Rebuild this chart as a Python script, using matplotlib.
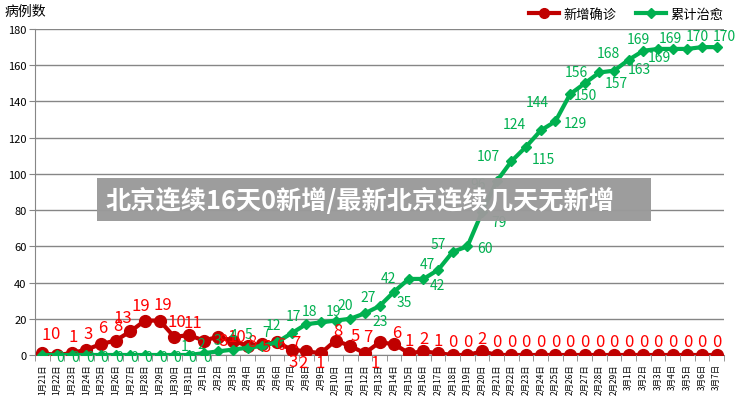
import matplotlib
matplotlib.use("Agg")
import matplotlib.pyplot as plt
from matplotlib.lines import Line2D
from matplotlib.patches import Rectangle
import numpy as np

plt.rcParams['font.family'] = ['Noto Sans CJK SC', 'DejaVu Sans']

# ---- data ----
dates = (['1月%d日' % d for d in range(21, 32)] +
         ['2月%d日' % d for d in range(1, 30)] +
         ['3月%d日' % d for d in range(1, 8)])

new_cases = [1, 0, 1, 3, 6, 8, 13, 19, 19, 10, 11,
             8, 10, 8, 5, 6, 7, 3, 2, 1, 8, 5, 1, 7, 6, 1, 2, 1, 0, 0, 2,
             0, 0, 0, 0, 0, 0, 0, 0, 0,
             0, 0, 0, 0, 0, 0, 0]

cured = [0, 0, 0, 0, 0, 0, 0, 0, 0, 0, 0,
         1, 2, 3, 4, 5, 7, 12, 17, 18, 19, 20, 23, 27, 35, 42, 42, 47, 57, 60, 79,
         96, 107, 115, 124, 129, 144, 150, 156, 157,
         163, 168, 169, 169, 169, 170, 170]

# label offsets (pixels) -- style only
red_off = ([(4, 19), (-2, 21), (2, 17), (2, 16), (2, 17), (2, 15), (-7, 14), (-4, 15),
            (3, 16), (3, 15), (4, 13)] +
           [(19, 0), (19, 0), (19, -1), (19, -1), (19, 0), (19, 0)] +
           [(2, -12), (-3, -11), (-1, -9), (2, 10), (5, 10), (10, -9), (-12, 6), (3, 12)] +
           [(0, 13)] * 22)
grn_off = ([(18, -2)] * 11 +
           [(-19, 7), (-17, 7), (-15, 10), (-14, 13), (-14, 12), (-11, 10), (-18, 8),
            (-13, 8), (-11, 11), (-2, 10), (-5, 14), (15, -8), (-11, 9), (10, -10),
            (-20, 1), (14, -6), (-11, 6), (-15, 8), (18, -2), (17, -10), (-19, -3),
            (-23, 5), (17, -12), (-26, 6), (20, -2), (-33, -8), (1, -12), (-23, 0),
            (2, -12), (11, -9), (-35, -2), (-20, 10), (-13, -8), (-17, 11), (-5, 11),
            (8, 11)])

RED = '#C00000'
RED_TXT = '#FF0000'
GREEN = '#00B050'
GRID = '#868686'

fig = plt.figure(figsize=(7.46, 4.02), dpi=100)
ax = fig.add_axes([35/746, 46/402, (724-35)/746, (356-30)/402])

x = np.arange(len(dates))
ax.plot(x, new_cases, color=RED, lw=3, marker='o', ms=8.5, zorder=3)
ax.plot(x, cured, color=GREEN, lw=3, marker='D', ms=5.5, zorder=4)

for i in range(len(x)):
    ax.annotate(str(new_cases[i]), (x[i], new_cases[i]), xytext=red_off[i],
                textcoords='offset pixels', ha='center', va='center',
                color=RED_TXT, fontsize=12, zorder=5, annotation_clip=False)
    ax.annotate(str(cured[i]), (x[i], cured[i]), xytext=grn_off[i],
                textcoords='offset pixels', ha='center', va='center',
                color=GREEN, fontsize=10, zorder=5, annotation_clip=False)

ax.set_xlim(-0.5, len(dates) - 0.5)
ax.set_ylim(0, 180)
ax.set_yticks(range(0, 181, 20))
ax.yaxis.grid(True, color=GRID, lw=1)
ax.set_axisbelow(True)
ax.set_xticks(x)
ax.set_xticklabels(dates, rotation=90, fontsize=6)
ax.set_xticks(np.arange(-0.5, len(dates), 1), minor=True)
ax.tick_params(axis='x', which='major', length=0, pad=6)
ax.tick_params(axis='x', which='minor', length=4, color=GRID)
ax.tick_params(axis='y', length=4, color=GRID, labelsize=8, pad=2)
for s in ['top', 'right']:
    ax.spines[s].set_visible(False)
ax.spines['left'].set_color(GRID)
ax.spines['bottom'].set_color(GRID)

fig.text(5/746, 1 - 12/402, '病例数', fontsize=10, va='center', ha='left')

handles = [Line2D([], [], color=RED, lw=3, marker='o', ms=7),
           Line2D([], [], color=GREEN, lw=3, marker='D', ms=5)]
fig.legend(handles, ['新增确诊', '累计治愈'], loc='center right',
           bbox_to_anchor=(735/746, 1 - 15/402), ncol=2, frameon=False,
           fontsize=9.5, handlelength=2.3, handletextpad=0.3, columnspacing=1.5)

# overlay title band
fig.patches.append(Rectangle((97/746, 1 - 222/402), 554/746, 43/402,
                             transform=fig.transFigure, facecolor='#9a9a9a',
                             edgecolor='none', alpha=0.97, zorder=10))
fig.text(360/746, 1 - 201/402, '北京连续16天0新增/最新北京连续几天无新增',
         color='white', fontsize=18.2, fontweight='bold', ha='center', va='center',
         zorder=11)

fig.savefig('out.png', dpi=100)
